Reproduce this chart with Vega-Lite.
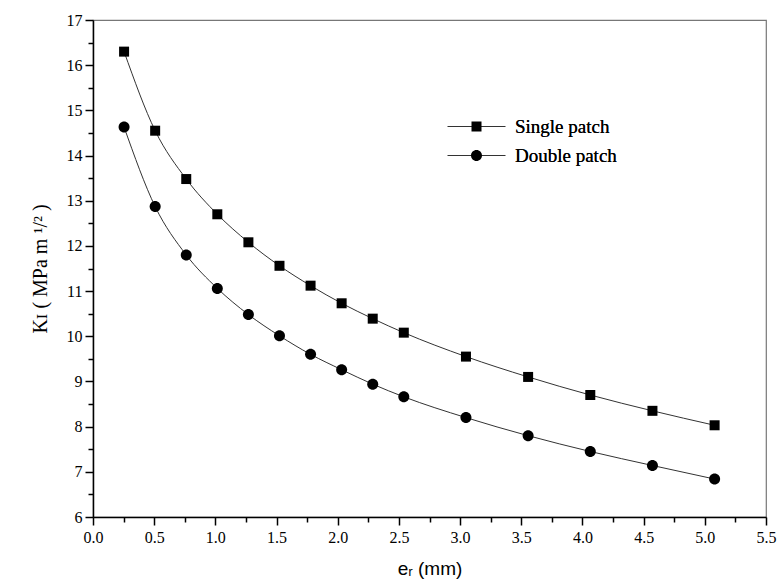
{
  "$schema": "https://vega.github.io/schema/vega-lite/v6.json",
  "width": 673,
  "height": 497,
  "autosize": {"type": "none"},
  "padding": {"left": 93, "top": 20, "right": 13, "bottom": 71},
  "background": "white",
  "config": {
    "view": {"stroke": "#777", "strokeWidth": 1.2},
    "axis": {
      "grid": false,
      "domainColor": "black",
      "domainWidth": 1.5,
      "tickColor": "black",
      "tickWidth": 1.5,
      "labelFont": "Liberation Serif",
      "labelFontSize": 16,
      "labelColor": "black",
      "titleColor": "black",
      "labelOverlap": false,
      "labelFlush": false
    }
  },
  "data": {
    "values": [
      {"e": 0.254, "K": 16.30, "series": "Single patch"},
      {"e": 0.508, "K": 14.55, "series": "Single patch"},
      {"e": 0.762, "K": 13.48, "series": "Single patch"},
      {"e": 1.016, "K": 12.70, "series": "Single patch"},
      {"e": 1.270, "K": 12.08, "series": "Single patch"},
      {"e": 1.524, "K": 11.56, "series": "Single patch"},
      {"e": 1.778, "K": 11.12, "series": "Single patch"},
      {"e": 2.032, "K": 10.73, "series": "Single patch"},
      {"e": 2.286, "K": 10.39, "series": "Single patch"},
      {"e": 2.540, "K": 10.08, "series": "Single patch"},
      {"e": 3.048, "K": 9.55, "series": "Single patch"},
      {"e": 3.556, "K": 9.10, "series": "Single patch"},
      {"e": 4.064, "K": 8.70, "series": "Single patch"},
      {"e": 4.572, "K": 8.35, "series": "Single patch"},
      {"e": 5.080, "K": 8.03, "series": "Single patch"},
      {"e": 0.254, "K": 14.63, "series": "Double patch"},
      {"e": 0.508, "K": 12.87, "series": "Double patch"},
      {"e": 0.762, "K": 11.80, "series": "Double patch"},
      {"e": 1.016, "K": 11.06, "series": "Double patch"},
      {"e": 1.270, "K": 10.48, "series": "Double patch"},
      {"e": 1.524, "K": 10.01, "series": "Double patch"},
      {"e": 1.778, "K": 9.60, "series": "Double patch"},
      {"e": 2.032, "K": 9.26, "series": "Double patch"},
      {"e": 2.286, "K": 8.94, "series": "Double patch"},
      {"e": 2.540, "K": 8.66, "series": "Double patch"},
      {"e": 3.048, "K": 8.20, "series": "Double patch"},
      {"e": 3.556, "K": 7.80, "series": "Double patch"},
      {"e": 4.064, "K": 7.45, "series": "Double patch"},
      {"e": 4.572, "K": 7.14, "series": "Double patch"},
      {"e": 5.080, "K": 6.84, "series": "Double patch"}
    ]
  },
  "encoding": {
    "x": {
      "field": "e",
      "type": "quantitative",
      "scale": {"domain": [0, 5.5], "nice": false, "zero": false},
      "axis": {
        "title": "eᵣ (mm)",
        "titleFont": "Liberation Sans",
        "titleFontSize": 19,
        "titleFontWeight": "normal",
        "titlePadding": 14,
        "labelFont": "Liberation Serif",
        "values": [0,0.25,0.5,0.75,1,1.25,1.5,1.75,2,2.25,2.5,2.75,3,3.25,3.5,3.75,4,4.25,4.5,4.75,5,5.25,5.5],
        "labelExpr": "datum.value % 0.5 === 0 ? format(datum.value, '.1f') : ''",
        "tickSize": {"expr": "datum.value % 0.5 === 0 ? 8 : 5"},
        "labelPadding": 4
      }
    },
    "y": {
      "field": "K",
      "type": "quantitative",
      "scale": {"domain": [6, 17], "nice": false, "zero": false},
      "axis": {
        "title": "Kɪ ( MPa m ¹/² )",
        "titleFont": "Liberation Serif",
        "titleFontSize": 20,
        "titleFontWeight": "normal",
        "titlePadding": 16,
        "labelFont": "Liberation Serif",
        "values": [6,6.5,7,7.5,8,8.5,9,9.5,10,10.5,11,11.5,12,12.5,13,13.5,14,14.5,15,15.5,16,16.5,17],
        "labelExpr": "datum.value % 1 === 0 ? format(datum.value, 'd') : ''",
        "tickSize": {"expr": "datum.value % 1 === 0 ? 8 : 5"},
        "labelPadding": 3
      }
    }
  },
  "layer": [
    {
      "mark": {"type": "line", "interpolate": "monotone", "strokeWidth": 1},
      "encoding": {
        "stroke": {
          "field": "series",
          "type": "nominal",
          "scale": {"domain": ["Single patch", "Double patch"], "range": ["#333", "#333"]},
          "legend": {
            "title": null,
            "orient": "none",
            "legendX": 374,
            "legendY": 97,
            "padding": 0,
            "labelFont": "Liberation Serif",
            "labelFontSize": 19,
            "labelColor": "black",
            "labelOffset": 29,
            "rowPadding": 9,
            "symbolType": "M-5.8,0H5.8",
            "symbolSize": 100,
            "symbolStrokeWidth": 1,
            "symbolOpacity": 1
          }
        }
      }
    },
    {
      "mark": {"type": "point", "filled": true, "color": "black", "opacity": 1, "size": 100},
      "encoding": {
        "shape": {
          "field": "series",
          "type": "nominal",
          "scale": {"domain": ["Single patch", "Double patch"], "range": ["square", "M-1.1,0A1.1,1.1 0 1,0 1.1,0A1.1,1.1 0 1,0 -1.1,0Z"]},
          "legend": null
        }
      }
    },
    {
      "mark": {"type": "point", "filled": true, "color": "black", "opacity": 0, "size": 100},
      "encoding": {
        "shape": {
          "field": "series",
          "type": "nominal",
          "scale": {"domain": ["Single patch", "Double patch"], "range": ["M-5.8,0H5.8M-1,-1H1V1H-1Z", "M-5.8,0H5.8M-1.1,0A1.1,1.1 0 1,0 1.1,0A1.1,1.1 0 1,0 -1.1,0Z"]},
          "legend": {
            "title": null,
            "orient": "none",
            "legendX": 374,
            "legendY": 97,
            "padding": 0,
            "labelFont": "Liberation Serif",
            "labelFontSize": 19,
            "labelColor": "black",
            "labelOffset": 29,
            "rowPadding": 9,
            "symbolSize": 100,
            "symbolFillColor": "black",
            "symbolStrokeWidth": 1,
            "symbolOpacity": 1
          }
        }
      }
    }
  ],
  "resolve": {"scale": {"shape": "independent"}, "legend": {"shape": "independent"}}
}
